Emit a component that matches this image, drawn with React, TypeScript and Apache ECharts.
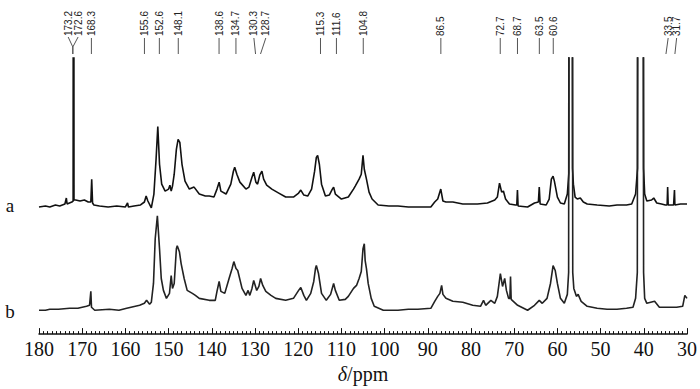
import React, { useEffect, useRef } from 'react';
import * as echarts from 'echarts';

// x-axis range (ppm) and major tick step
const axisMin = 30;
const axisMax = 180;
const axisStep = 10;

// Peak annotation texts, the ppm where each text sits, and the ppm its leader line points to
const peakLabels = ['173.2', '172.6', '168.3', '155.6', '152.6', '148.1', '138.6', '134.7', '130.3', '128.7', '115.3', '111.6', '104.8', '86.5', '72.7', '68.7', '63.5', '60.6', '33.5', '31.7'];
const peakTextPpm = [173.25, 170.95, 167.87, 155.59, 152.14, 147.76, 138.32, 134.41, 130.26, 127.5, 114.84, 111.15, 104.94, 86.98, 73.23, 69.24, 64.18, 60.96, 34.36, 32.4];
const peakLinePpm = [172.17, 172.17, 167.87, 155.59, 152.14, 147.76, 138.32, 134.41, 129.87, 128.72, 114.84, 111.15, 104.94, 86.98, 73.23, 69.24, 64.18, 60.96, 34.87, 32.8];
const peakJoined = [true, true, false, false, false, false, false, false, false, false, false, false, false, false, false, false, false, false, false, false];

// Spectrum a: [ppm, intensity above its baseline]; 1000 = off scale
const spectrumA: [number, number][] = [
  [180.0, 1], [178.5, 2], [177.5, 1], [176.2, 3], [175.2, 2], [174.0, 4], [173.85, 4], [173.67, 10], [173.5, 4],
  [172.4, 6], [172.1, 7], [172.0, 1000], [171.9, 8], [171.5, 8], [170.5, 7], [169.5, 8], [168.6, 6], [168.0, 6],
  [167.8, 29], [167.6, 5], [167.3, 3], [166.0, 2], [164.0, 1], [162.0, 2], [160.0, 1], [159.5, 5], [159.3, 1],
  [158.0, 2], [156.5, 3], [155.6, 6], [155.2, 12], [154.8, 7], [154.0, 0], [153.4, 14], [152.9, 49], [152.5, 82],
  [152.1, 44], [151.6, 24], [150.8, 17], [150.0, 19], [149.7, 23], [149.4, 17], [149.1, 22], [148.7, 34],
  [148.2, 59], [147.8, 69], [147.4, 66], [146.9, 44], [146.2, 27], [145.2, 19], [144.1, 21], [142.9, 14],
  [141.5, 12], [140.6, 12], [139.5, 11], [138.8, 19], [138.3, 26], [137.9, 17], [136.7, 14], [135.6, 24],
  [135.0, 37], [134.7, 41], [134.2, 34], [133.5, 26], [132.1, 19], [131.4, 21], [130.7, 31], [130.3, 36],
  [129.8, 26], [129.4, 24], [128.9, 33], [128.4, 37], [128.0, 29], [127.3, 23], [126.1, 19], [124.5, 15],
  [122.9, 11], [121.1, 11], [119.9, 15], [119.4, 18], [118.7, 13], [117.8, 12], [116.9, 19], [116.2, 37],
  [115.8, 51], [115.5, 53], [115.1, 44], [114.6, 24], [113.7, 12], [112.8, 13], [112.1, 19], [111.8, 21],
  [111.4, 14], [110.0, 9], [108.4, 11], [107.2, 19], [106.8, 22], [105.9, 29], [105.4, 34], [105.0, 53],
  [104.7, 39], [104.2, 29], [103.6, 16], [102.9, 9], [101.5, 3], [99.0, 2], [96.9, 2], [94.5, 1], [92.3, 1],
  [89.3, 1], [88.4, 6], [87.7, 9], [87.0, 19], [86.5, 7], [85.8, 6], [84.2, 6], [81.9, 4], [78.5, 4], [76.2, 5],
  [74.5, 8], [73.9, 11], [73.4, 25], [72.9, 16], [72.5, 17], [72.0, 9], [71.1, 4], [69.7, 3], [69.4, 3],
  [69.25, 18], [69.1, 2], [66.9, 1], [65.3, 5], [64.4, 6], [64.2, 21], [64.0, 4], [62.6, 3], [61.9, 9],
  [61.4, 29], [61.0, 32], [60.7, 27], [60.0, 11], [59.3, 5], [58.4, 4], [57.7, 14], [57.35, 35], [57.22, 1000],
  [56.66, 1000], [56.5, 40], [56.3, 24], [55.9, 11], [55.4, 9], [54.7, 10], [54.0, 6], [53.1, 4], [50.8, 3],
  [48.0, 2], [46.2, 3], [44.0, 3], [42.8, 4], [41.9, 14], [41.45, 40], [41.28, 1000], [40.27, 1000], [40.05, 40],
  [39.8, 14], [39.3, 7], [38.2, 8], [37.7, 10], [37.0, 5], [35.9, 4], [35.0, 3], [34.6, 3], [34.48, 21],
  [34.35, 3], [33.1, 3], [33.0, 3], [32.9, 18], [32.8, 3], [31.5, 4], [30.0, 4],
];

// Spectrum b: [ppm, intensity above its baseline]; 1000 = off scale
const spectrumB: [number, number][] = [
  [180.0, 2], [178.5, 2], [177.5, 3], [175.5, 3], [172.9, 4], [171.0, 4], [169.0, 6], [168.3, 7], [168.15, 7],
  [168.0, 21], [167.85, 5], [167.1, 2], [163.7, 3], [161.5, 2], [159.7, 4], [156.7, 7], [155.6, 9], [155.1, 12],
  [154.4, 8], [154.0, 10], [153.5, 29], [153.1, 74], [152.6, 97], [152.1, 64], [151.7, 34], [151.2, 22],
  [150.5, 14], [149.8, 19], [149.4, 37], [149.1, 24], [148.7, 29], [148.2, 64], [148.0, 67], [147.5, 61],
  [147.1, 49], [146.4, 34], [145.7, 22], [144.5, 19], [143.8, 17], [142.9, 14], [140.6, 12], [139.2, 12],
  [138.8, 21], [138.3, 31], [137.9, 21], [137.0, 19], [136.0, 34], [135.3, 44], [134.9, 51], [134.4, 44],
  [134.0, 42], [133.0, 24], [132.1, 17], [131.6, 22], [131.2, 17], [130.7, 24], [130.3, 32], [129.6, 22],
  [129.1, 26], [128.7, 34], [128.2, 27], [127.5, 21], [126.3, 17], [125.2, 14], [122.9, 12], [121.1, 14],
  [119.9, 22], [119.4, 25], [118.7, 17], [118.1, 12], [117.1, 19], [116.4, 31], [116.0, 44], [115.8, 47],
  [115.3, 39], [114.6, 19], [113.5, 12], [112.5, 18], [111.8, 29], [111.4, 22], [110.5, 12], [109.1, 13],
  [108.4, 16], [107.2, 24], [106.5, 27], [105.9, 34], [105.4, 41], [105.0, 64], [104.7, 69], [104.5, 52],
  [104.2, 44], [103.8, 29], [103.1, 14], [102.4, 6], [100.3, 2], [96.9, 2], [94.5, 3], [92.3, 3], [89.3, 4],
  [88.4, 11], [87.7, 16], [87.2, 19], [86.8, 27], [86.5, 18], [85.8, 14], [84.2, 11], [81.9, 10], [79.6, 7],
  [77.8, 6], [77.1, 12], [76.6, 7], [75.4, 12], [74.5, 9], [73.9, 16], [73.2, 39], [72.7, 26], [72.2, 34],
  [71.8, 22], [71.3, 14], [71.0, 14], [70.85, 36], [70.7, 13], [69.2, 7], [66.9, 2], [65.3, 7], [64.2, 12],
  [63.5, 9], [62.4, 14], [61.6, 29], [61.0, 47], [60.5, 42], [60.0, 29], [59.3, 14], [58.4, 9], [57.7, 18],
  [57.4, 40], [57.22, 1000], [56.66, 1000], [56.45, 40], [56.2, 24], [55.6, 16], [55.2, 18], [54.5, 11],
  [53.1, 6], [50.8, 4], [48.5, 3], [46.2, 3], [44.0, 4], [42.5, 5], [41.9, 14], [41.5, 40], [41.28, 1000],
  [40.27, 1000], [40.05, 40], [39.8, 14], [39.3, 9], [37.5, 11], [36.4, 5], [34.5, 5], [32.4, 5], [31.0, 6],
  [30.5, 17], [30.0, 14],
];

const traceNames = ['a', 'b'];

const SERIF = 'Liberation Serif, "Times New Roman", Times, serif';
const SANS = 'Liberation Sans, Arial, Helvetica, sans-serif';
const OFFSET_A = 127;
const OFFSET_B = 22;

export default function App() {
  const ref = useRef<HTMLDivElement>(null);
  useEffect(() => {
    if (!ref.current) return;
    const chart = echarts.init(ref.current, null, { renderer: 'svg' });
    chart.setOption({
      animation: false,
      backgroundColor: '#ffffff',
      grid: { left: 39, right: 9.5, top: 58, bottom: 53 },
      xAxis: {
        type: 'value',
        inverse: true,
        min: axisMin,
        max: axisMax,
        interval: axisStep,
        axisLine: { lineStyle: { color: '#111', width: 1.5 } },
        axisTick: { inside: true, length: 6, lineStyle: { color: '#111', width: 1 } },
        minorTick: { show: true, splitNumber: 10, length: 3, lineStyle: { color: '#111', width: 1 } },
        splitLine: { show: false },
        axisLabel: { margin: 5, color: '#111', fontSize: 20, fontFamily: SERIF },
        name: '{i|δ}/ppm',
        nameLocation: 'middle',
        nameGap: 25,
        nameTextStyle: {
          color: '#111', fontSize: 20, fontFamily: SERIF,
          rich: { i: { fontStyle: 'italic', fontSize: 20, fontFamily: SERIF, color: '#111' } },
        },
      },
      yAxis: { type: 'value', min: 0, max: 278, show: false },
      series: [
        {
          type: 'line', name: traceNames[0], symbol: 'none', clip: true,
          data: spectrumA.map(([x, v]) => [x, v + OFFSET_A]),
          lineStyle: { color: '#111', width: 1.6 },
        },
        {
          type: 'line', name: traceNames[1], symbol: 'none', clip: true,
          data: spectrumB.map(([x, v]) => [x, v + OFFSET_B]),
          lineStyle: { color: '#222', width: 1.6 },
        },
      ],
    });

    const px = (v: number) => chart.convertToPixel({ xAxisIndex: 0 }, v) as number;
    const graphics: any[] = [];
    peakLabels.forEach((lab, i) => {
      const tx = px(peakTextPpm[i]);
      const lx = px(peakLinePpm[i]);
      graphics.push({
        type: 'text', x: tx, y: 36, rotation: Math.PI / 2,
        style: { text: lab, fontSize: 10, fontFamily: SANS, fill: '#222', align: 'left', verticalAlign: 'middle' },
      });
      if (peakJoined[i]) {
        graphics.push({ type: 'line', shape: { x1: tx, y1: 37, x2: lx, y2: 47 }, style: { stroke: '#555', lineWidth: 1 } });
        graphics.push({ type: 'line', shape: { x1: lx, y1: 47, x2: lx, y2: 54 }, style: { stroke: '#555', lineWidth: 1 } });
      } else {
        graphics.push({ type: 'line', shape: { x1: tx, y1: 38, x2: lx, y2: 54 }, style: { stroke: '#555', lineWidth: 1 } });
      }
    });
    graphics.push({
      type: 'text', x: 10, y: 205,
      style: { text: traceNames[0], fontSize: 19, fontFamily: SERIF, fill: '#111', align: 'center', verticalAlign: 'middle' },
    });
    graphics.push({
      type: 'text', x: 10, y: 311,
      style: { text: traceNames[1], fontSize: 19, fontFamily: SERIF, fill: '#111', align: 'center', verticalAlign: 'middle' },
    });
    chart.setOption({ graphic: graphics });

    return () => chart.dispose();
  }, []);
  return <div ref={ref} style={{ position: 'fixed', left: 0, top: 0, width: 700, height: 389 }} />;
}
